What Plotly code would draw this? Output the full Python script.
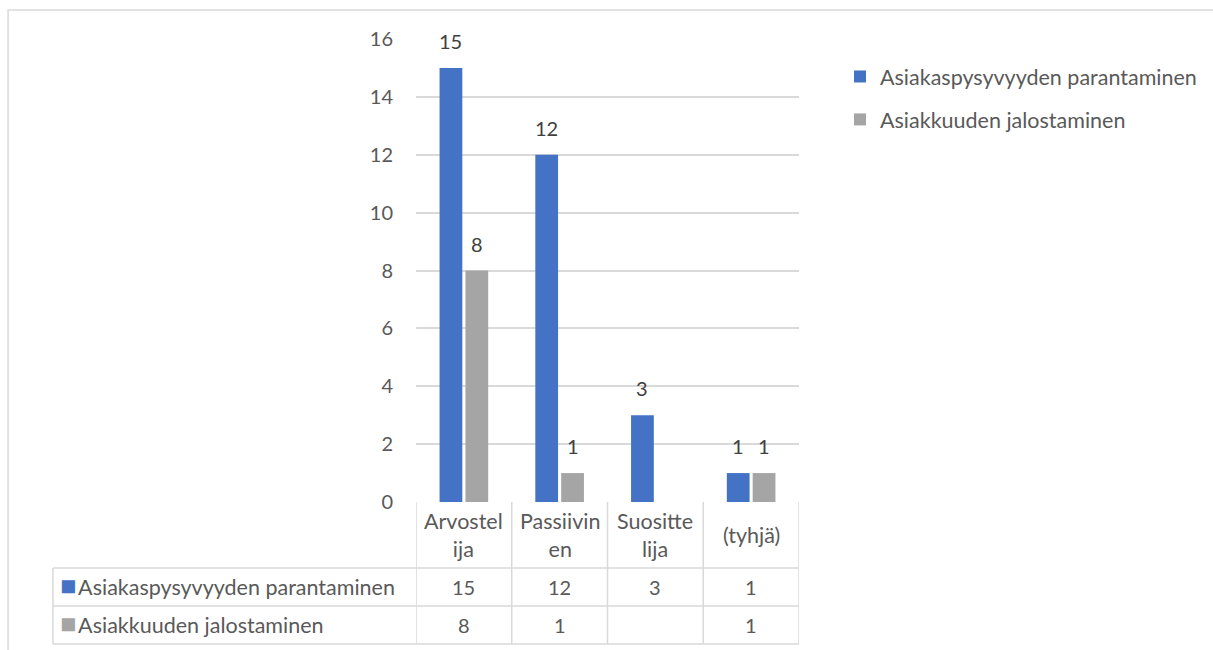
import plotly.graph_objects as go

categories = ["Arvostelija", "Passiivinen", "Suosittelija", "(tyhjä)"]
category_labels = ["Arvostel<br>ija", "Passiivin<br>en", "Suositte<br>lija", "(tyhjä)"]
series_names = ["Asiakaspysyvyyden parantaminen", "Asiakkuuden jalostaminen"]
pysyvyys = [15, 12, 3, 1]
jalostaminen = [8, 1, None, 1]
y_ticks = [0, 2, 4, 6, 8, 10, 12, 14, 16]

colors = ["#4472C4", "#A5A5A5"]
FONT = "Lato"
TXT = "#595959"
GRID = "#D9D9D9"
WORD_SIZE = 21.5
NUM_SIZE = 20

W, H = 1213, 650
L, R, T, B = 416, 800, 39, 502
BARGAP, BARGROUPGAP = 0.46, 0.12


def px(x):
    return (x - L) / (R - L)


def py(y):
    return (B - y) / (B - T)


series_vals = [pysyvyys, jalostaminen]
fig = go.Figure()
for name, vals, col in zip(series_names, series_vals, colors):
    fig.add_trace(go.Bar(
        x=categories, y=vals, name=name, legendgroup=name,
        marker=dict(color=col, line=dict(width=0)),
        hoverinfo="x+y+name",
    ))

shapes = []
annotations = []

# data labels above bars
n_series = len(series_vals)
slot = (1 - BARGAP) / n_series
for j, vals in enumerate(series_vals):
    for i, v in enumerate(vals):
        if v is None:
            continue
        annotations.append(dict(xref="x", yref="y", x=i + (j - (n_series - 1) / 2) * slot, y=v,
                                yshift=27, yanchor="middle", text=str(v), showarrow=False,
                                font=dict(family=FONT, size=NUM_SIZE, color="#404040")))

# outer chart border
shapes.append(dict(type="rect", xref="paper", yref="paper",
                   x0=px(7), x1=px(W + 10), y0=py(10), y1=py(H + 10),
                   line=dict(color=GRID, width=1.5)))
# table geometry
row_lines = [568, 606, 644]
table_left = 52
for yl in row_lines:
    shapes.append(dict(type="line", xref="paper", yref="paper",
                       x0=px(table_left), x1=1, y0=py(yl), y1=py(yl),
                       line=dict(color=GRID, width=1.5)))
shapes.append(dict(type="line", xref="paper", yref="paper",
                   x0=px(table_left), x1=px(table_left),
                   y0=py(row_lines[0]), y1=py(row_lines[-1]),
                   line=dict(color=GRID, width=1.5)))
for i in range(len(categories) + 1):
    shapes.append(dict(type="line", xref="x", yref="paper",
                       x0=i - 0.5, x1=i - 0.5, y0=0, y1=py(row_lines[-1]),
                       line=dict(color=GRID, width=1.5)))

# header cells
for i, lab in enumerate(category_labels):
    annotations.append(dict(xref="x", yref="paper", x=i, y=py((B + row_lines[0]) / 2),
                            yanchor="middle", text=lab, showarrow=False, align="center",
                            font=dict(family=FONT, size=WORD_SIZE, color=TXT)))
# row cells
for r, (name, vals, col) in enumerate(zip(series_names, series_vals, colors)):
    yc = py((row_lines[r] + row_lines[r + 1]) / 2)
    annotations.append(dict(xref="paper", yref="paper", x=px(57), y=yc, xanchor="left",
                            yanchor="middle", yshift=3,
                            text=(f"<span style='color:{col};font-size:27px'>■</span>"
                                  f"<span style='font-size:7px'> </span>{name}"),
                            showarrow=False,
                            font=dict(family=FONT, size=WORD_SIZE, color=TXT)))
    for i, v in enumerate(vals):
        annotations.append(dict(xref="x", yref="paper", x=i, y=yc, yanchor="middle",
                                text=("" if v is None else str(v)), showarrow=False,
                                font=dict(family=FONT, size=NUM_SIZE, color=TXT)))

fig.update_layout(
    width=W, height=H,
    margin=dict(l=L, r=W - R, t=T, b=H - B, pad=0),
    paper_bgcolor="white", plot_bgcolor="white",
    barmode="group", bargap=BARGAP, bargroupgap=BARGROUPGAP,
    font=dict(family=FONT, size=WORD_SIZE, color=TXT),
    showlegend=True,
    legend=dict(x=px(840), y=py(56), xanchor="left", yanchor="top",
                font=dict(family=FONT, size=WORD_SIZE, color=TXT),
                tracegroupgap=12, traceorder="grouped", bgcolor="rgba(0,0,0,0)"),
    xaxis=dict(range=[-0.5, len(categories) - 0.5], showticklabels=False,
               showgrid=False, zeroline=False, showline=False, ticks="", fixedrange=True),
    yaxis=dict(range=[0, 16], tickvals=y_ticks, showgrid=True, gridcolor=GRID, gridwidth=1.5,
               zeroline=False, showline=False, ticks="", ticklabelstandoff=22,
               tickfont=dict(family=FONT, size=NUM_SIZE, color=TXT)),
    shapes=shapes, annotations=annotations,
)

fig.write_html("out.html")
